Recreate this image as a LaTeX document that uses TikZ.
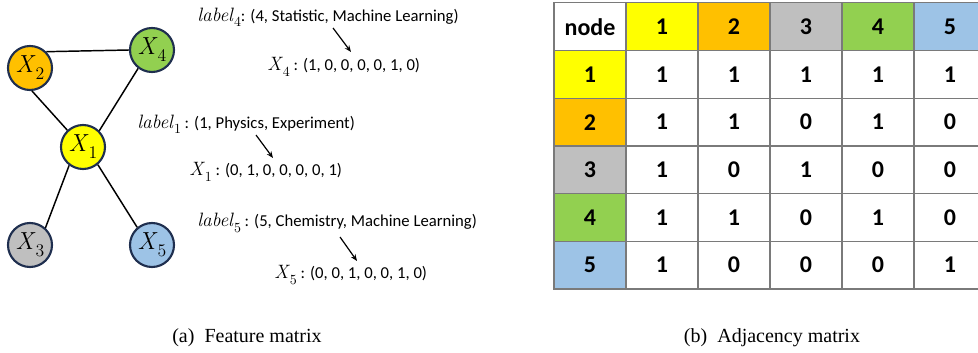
\documentclass[tikz,border=0pt]{standalone}
\usepackage{fontspec}
\setmainfont{Carlito}
\newfontfamily\capfont{Liberation Serif}
\newfontfamily\lmr{Latin Modern Roman}
\usetikzlibrary{arrows.meta}
\definecolor{cyel}{HTML}{FFFF00}
\definecolor{cora}{HTML}{FFC000}
\definecolor{cgry}{HTML}{BFBFBF}
\definecolor{cgrn}{HTML}{92D050}
\definecolor{cblu}{HTML}{9DC3E6}
\definecolor{rim}{HTML}{1F2F4F}
\definecolor{grid}{HTML}{7A7A7A}
\tikzset{
  vtx/.style={circle, draw=rim, line width=1.6pt, minimum size=33pt, inner sep=0pt,
    font=\fontsize{18.5}{20}\selectfont},
  edge/.style={line width=1.1pt, black},
  ftxt/.style={anchor=west, inner sep=0pt, font=\fontsize{12.5}{14}\selectfont},
  pointer/.style={-{Stealth[length=5pt,width=4pt]}, line width=0.9pt},
  cell/.style={draw=grid, line width=0.8pt, minimum width=54pt, minimum height=35.75pt,
    inner sep=0pt, font=\fontsize{18}{20}\selectfont\bfseries},
  captxt/.style={inner sep=0pt, anchor=base, font=\capfont\fontsize{15}{17}\selectfont}
}
% italic symbol with an upright subscript
\newcommand{\sym}[2]{{\lmr\itshape #1\/}\raisebox{-0.28em}{\lmr\fontsize{0.72\dimexpr\csname f@size\endcsname pt\relax}{1em}\selectfont #2}}
\newcommand{\lbl}[2]{{\fontsize{14.5}{16}\selectfont\sym{#1}{#2}}}
\begin{document}
\begin{tikzpicture}[x=0.75pt, y=-0.75pt]
\useasboundingbox (0,0) rectangle (978,353);
\clip (0,0) rectangle (978,353);

% graph
\node[vtx, fill=cyel] (x1) at (83,147) {\sym{X}{1}};
\node[vtx, fill=cora] (x2) at (30,68) {\sym{X}{2}};
\node[vtx, fill=cgry] (x3) at (30,245) {\sym{X}{3}};
\node[vtx, fill=cgrn] (x4) at (152,50) {\sym{X}{4}};
\node[vtx, fill=cblu] (x5) at (152,245) {\sym{X}{5}};
\draw[edge] (x2.45) -- (x4.west);
\draw[edge] (x2.275) -- (x1.133);
\draw[edge] (x4.233) -- (x1.45);
\draw[edge] (x1.233) -- (x3.48);
\draw[edge] (x1.310) -- (x5.130);

% label to feature vector
\node[ftxt] (l4) at (197,17) {\lbl{label}{4}: (4, Statistic, Machine Learning)};
\node[ftxt] (f4) at (267,67) {\lbl{X}{4} : (1, 0, 0, 0, 0, 1, 0)};
\coordinate (a4s) at (333,28);
\coordinate (a4e) at (351,52);
\draw[pointer] (a4s) -- (a4e);

\node[ftxt] (l1) at (137,124) {\lbl{label}{1} : (1, Physics, Experiment)};
\node[ftxt] (f1) at (189,172) {\lbl{X}{1} : (0, 1, 0, 0, 0, 0, 1)};
\coordinate (a1s) at (256,135);
\coordinate (a1e) at (273,158);
\draw[pointer] (a1s) -- (a1e);

\node[ftxt] (l5) at (197,223) {\lbl{label}{5} : (5, Chemistry, Machine Learning)};
\node[ftxt] (f5) at (274,275) {\lbl{X}{5} : (0, 0, 1, 0, 0, 1, 0)};
\coordinate (a5s) at (340,237);
\coordinate (a5e) at (357,261);
\draw[pointer] (a5s) -- (a5e);

% adjacency table
\foreach \t/\c [count=\j from 0] in {node/white,1/cyel,2/cora,3/cgry,4/cgrn,5/cblu}
  \node[cell, fill=\c] (c0\j) at ({590+72*\j},26.8) {\t};
\foreach \i/\c/\vals in {1/cyel/{1,1,1,1,1}, 2/cora/{1,1,0,1,0}, 3/cgry/{1,0,1,0,0},
                         4/cgrn/{1,1,0,1,0}, 5/cblu/{1,0,0,0,1}} {
  \node[cell, fill=\c] (c\i0) at (590,{26.8+47.67*\i}) {\i};
  \foreach \v [count=\j] in \vals
    \node[cell, fill=white] (c\i\j) at ({590+72*\j},{26.8+47.67*\i}) {\v};
}

% captions
\node[captxt] (capa) at (247,342) {(a)~~Feature matrix};
\node[captxt] (capb) at (772,342) {(b)~~Adjacency matrix};
\end{tikzpicture}
\end{document}
